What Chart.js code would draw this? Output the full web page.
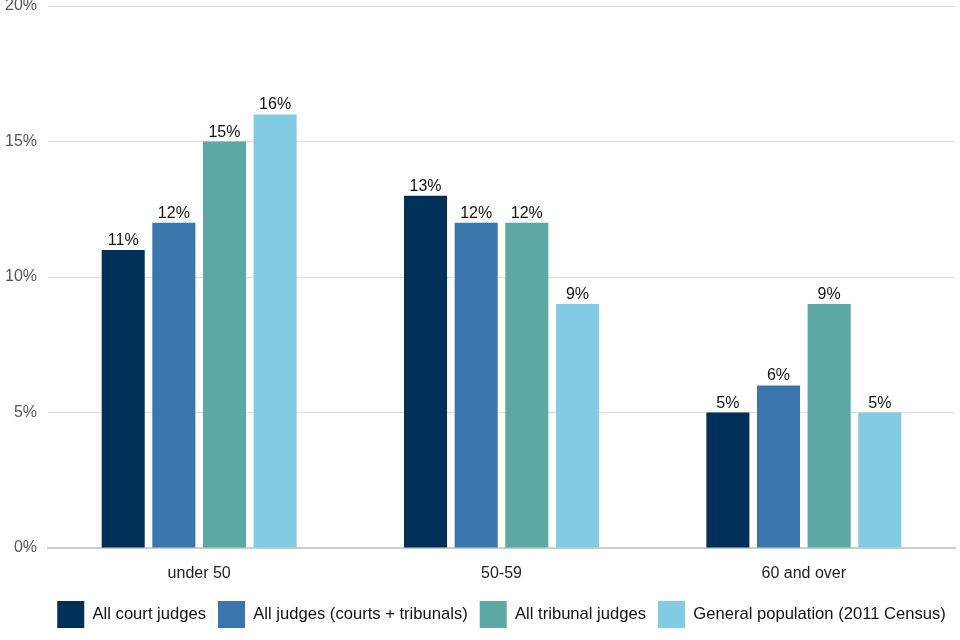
<!DOCTYPE html>
<html>
<head>
<meta charset="utf-8">
<script src="https://cdn.jsdelivr.net/npm/chart.js@4"></script>
<style>
html,body{margin:0;padding:0;background:#fff;}
#wrap{width:960px;height:640px;}
</style>
</head>
<body>
<div id="wrap"><canvas id="c" width="960" height="640"></canvas></div>
<script>
const categories = ["under 50", "50-59", "60 and over"];
const seriesNames = ["All court judges", "All judges (courts + tribunals)", "All tribunal judges", "General population (2011 Census)"];
const courtJudges = [11, 13, 5];
const allJudges = [12, 12, 6];
const tribunalJudges = [15, 12, 9];
const generalPopulation = [16, 9, 5];
const colors = ["#003057", "#3a75ad", "#5ba8a4", "#82cbe4"];
const yTicks = [0, 5, 10, 15, 20];

const FONT = "'Liberation Sans', Arial, sans-serif";

const labelPlugin = {
  id: 'barLabels',
  afterDatasetsDraw(chart) {
    const ctx = chart.ctx;
    ctx.save();
    ctx.font = "16px " + FONT;
    ctx.fillStyle = "#111";
    ctx.textAlign = "center";
    ctx.textBaseline = "alphabetic";
    chart.data.datasets.forEach((ds, i) => {
      const meta = chart.getDatasetMeta(i);
      meta.data.forEach((bar, j) => {
        ctx.fillText(ds.data[j] + "%", bar.x, bar.y - 5);
      });
    });
    ctx.restore();
  }
};

const legendShift = {
  id: 'legendShift',
  afterLayout(chart) {
    const lg = chart.legend;
    if (!lg) return;
    const area = chart.chartArea;
    const d = Math.round((area.left + area.right) / 2 - (lg.left + lg.right) / 2);
    lg.left += d;
    lg.right += d;
  }
};

new Chart(document.getElementById('c'), {
  type: 'bar',
  data: {
    labels: categories,
    datasets: [courtJudges, allJudges, tribunalJudges, generalPopulation].map((d, i) => ({
      label: seriesNames[i],
      data: d,
      backgroundColor: colors[i],
      borderWidth: 0,
      categoryPercentage: 0.67,
      barPercentage: 0.85
    }))
  },
  options: {
    responsive: false,
    animation: false,
    devicePixelRatio: 1,
    layout: { padding: { left: 0, right: 5, top: 6, bottom: 2 } },
    plugins: {
      legend: {
        position: 'bottom',
        labels: {
          boxWidth: 27,
          boxHeight: 27,
          padding: 12,
          color: "#111",
          font: { family: FONT, size: 16.6 }
        }
      },
      tooltip: { enabled: false }
    },
    scales: {
      x: {
        grid: { display: false, drawTicks: false },
        border: { display: true, color: "#cccccc", width: 2 },
        ticks: { color: "#222", font: { family: FONT, size: 16 }, padding: 16 },
        afterFit(axis) { axis.height = 41; }
      },
      y: {
        min: 0,
        max: 20,
        afterBuildTicks(axis) { axis.ticks = yTicks.map(v => ({ value: v })); },
        afterFit(axis) { axis.width = 48; axis.paddingTop = 0; },
        grid: { color: "#dddddd", lineWidth: 1, drawTicks: false },
        border: { display: false },
        ticks: {
          color: "#555",
          font: { family: FONT, size: 16 },
          padding: 11,
          callback: v => v + "%"
        }
      }
    }
  },
  plugins: [labelPlugin, legendShift]
});
</script>
</body>
</html>
